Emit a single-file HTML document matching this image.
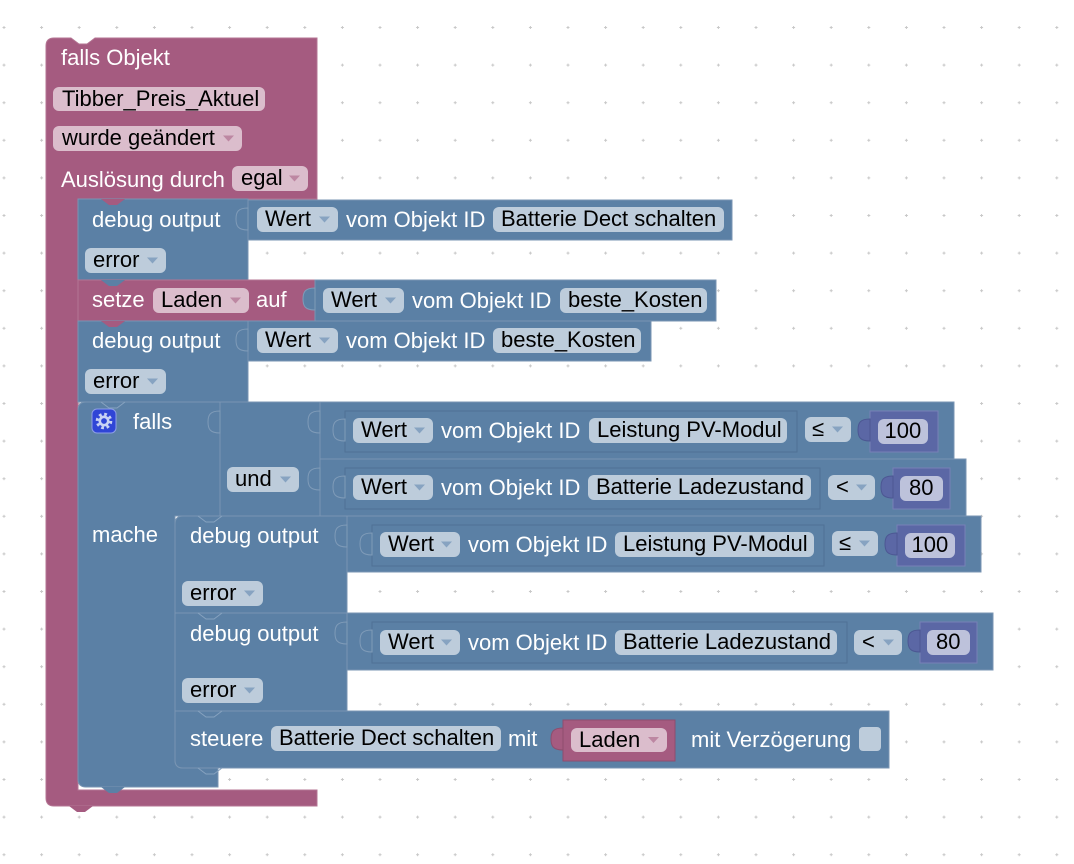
<!DOCTYPE html>
<html><head><meta charset="utf-8"><style>
html,body{margin:0;padding:0;background:#fff;}
svg{display:block}
text{font-family:"Liberation Sans",Arial,sans-serif;font-size:22px;}
.w{fill:#fff}.k{fill:#000}
.P{fill:#a55b80;stroke:#b47593;stroke-width:1}
.B{fill:#5b80a5;stroke:#7995b3;stroke-width:1}
.M{fill:#5b67a5;stroke:#7780b6;stroke-width:1}
.fp{fill:#dbbdcc}.fb{fill:#bdccdb}.fm{fill:#bdc2db}
.ap{fill:#bd87a2}.ab{fill:#87a3c1}
.tb{fill:#5b80a5;stroke:#7f9bb8;stroke-width:1}
.tp{fill:#a55b80;stroke:#8e4d6e;stroke-width:1}
.tm{fill:#5b67a5;stroke:#4c5793;stroke-width:1}
.sl{fill:none;stroke:#86a2bf;stroke-width:1}
</style></head><body>
<svg width="1074" height="864" viewBox="0 0 1074 864" xmlns="http://www.w3.org/2000/svg">
<defs>
<pattern id="dots" x="-14.8" y="8.7" width="37.6" height="37.6" patternUnits="userSpaceOnUse">
<path d="M17.3,18.8h3M18.8,17.3v3" stroke="#c8c8c8" stroke-width="1"/>
</pattern>
</defs>
<rect x="0" y="0" width="1074" height="864" fill="#fff"/>
<rect x="0" y="0" width="1074" height="864" fill="url(#dots)"/>

<!-- Hat block -->
<path class="P" d="M46,46 Q46,38 54,38 H71 L79,44 H87 L95,38 H317 V199 H78 V790 H317 V806 H54 Q46,806 46,798 Z"/>
<text x="61" y="65" class="w">falls Objekt</text>
<rect x="53" y="87" width="212" height="24" rx="6" class="fp"/>
<text x="62" y="106" class="k">Tibber_Preis_Aktuel</text>
<rect x="53" y="126" width="189" height="25" rx="6" class="fp"/>
<text x="62" y="145" class="k">wurde geändert</text>
<polygon class="ap" points="223,135.5 234,135.5 228.5,141.5"/>
<text x="61" y="187" class="w">Auslösung durch</text>
<rect x="232" y="166" width="76" height="25" rx="6" class="fp"/>
<text x="241" y="185" class="k">egal</text>
<polygon class="ap" points="289,175.5 300,175.5 294.5,181.5"/>

<!-- Debug 1 -->
<rect class="B" x="78" y="199" width="170" height="81"/>
<text x="92" y="227" class="w">debug output</text>
<rect x="85" y="248" width="81" height="25" rx="6" class="fb"/>
<text x="93" y="267" class="k">error</text>
<polygon class="ab" points="147,257.5 158,257.5 152.5,263.5"/>
<rect class="B" x="248" y="200" width="484" height="40"/>
<path class="tb" d="M248,208 C238,208 236,212 236,219 C236,226 238,230 248,230 Z"/>
<rect x="257" y="207" width="81" height="25" rx="6" class="fb"/>
<text x="265" y="226" class="k">Wert</text>
<polygon class="ab" points="319,216.5 330,216.5 324.5,222.5"/>
<text x="346" y="227" class="w">vom Objekt ID</text>
<rect x="493" y="207" width="231" height="25" rx="6" class="fb"/>
<text x="501" y="226" class="k">Batterie Dect schalten</text>
<polygon fill="#a55b80" points="101,199 109,205 117,205 125,199"/>

<!-- Setze -->
<rect class="P" x="78" y="280" width="237" height="41"/>
<text x="92" y="307" class="w">setze</text>
<rect x="153" y="288" width="96" height="25" rx="6" class="fp"/>
<text x="161" y="307" class="k">Laden</text>
<polygon class="ap" points="230,297.5 241,297.5 235.5,303.5"/>
<text x="256" y="307" class="w">auf</text>
<rect class="B" x="315" y="280" width="401" height="41"/>
<path class="tb" d="M315,288 C305,288 303,292 303,299 C303,306 305,310 315,310 Z"/>
<rect x="323" y="288" width="81" height="25" rx="6" class="fb"/>
<text x="331" y="307" class="k">Wert</text>
<polygon class="ab" points="385,297.5 396,297.5 390.5,303.5"/>
<text x="412" y="308" class="w">vom Objekt ID</text>
<rect x="560" y="288" width="147" height="25" rx="6" class="fb"/>
<text x="568" y="307" class="k">beste_Kosten</text>
<polygon fill="#5b80a5" points="101,280 109,286 117,286 125,280"/>

<!-- Debug 2 -->
<rect class="B" x="78" y="321" width="170" height="81"/>
<text x="92" y="348" class="w">debug output</text>
<rect x="85" y="369" width="81" height="25" rx="6" class="fb"/>
<text x="93" y="388" class="k">error</text>
<polygon class="ab" points="147,378.5 158,378.5 152.5,384.5"/>
<rect class="B" x="248" y="321" width="403" height="40"/>
<path class="tb" d="M248,329 C238,329 236,333 236,340 C236,347 238,351 248,351 Z"/>
<rect x="257" y="328" width="81" height="25" rx="6" class="fb"/>
<text x="265" y="347" class="k">Wert</text>
<polygon class="ab" points="319,337.5 330,337.5 324.5,343.5"/>
<text x="346" y="348" class="w">vom Objekt ID</text>
<rect x="493" y="328" width="148" height="25" rx="6" class="fb"/>
<text x="501" y="347" class="k">beste_Kosten</text>
<polygon fill="#a55b80" points="101,321 109,327 117,327 125,321"/>

<!-- Falls block -->
<path class="B" d="M78,410 Q78,402 86,402 H220 V516 H175 V760 Q175,768 183,768 H218 V787 H86 Q78,787 78,779 Z"/>
<polyline class="sl" points="101,402 109,408 117,408 125,402"/>
<rect x="92" y="409" width="24" height="24" rx="5" fill="#2f45d6" stroke="#8d9fe6" stroke-width="1"/>
<circle cx="104" cy="421" r="6.8" fill="none" stroke="#c8d2f4" stroke-width="3" stroke-dasharray="2.7 2.64"/>
<circle cx="104" cy="421" r="4.2" fill="none" stroke="#c8d2f4" stroke-width="2.6"/>
<text x="133" y="429" class="w">falls</text>
<text x="92" y="542" class="w">mache</text>

<!-- und -->
<rect class="B" x="220" y="402" width="100" height="114"/>
<path class="tb" d="M220,411 C210,411 208,415 208,422 C208,429 210,433 220,433 Z"/>
<rect x="227" y="467" width="72" height="25" rx="6" class="fb"/>
<text x="235" y="486" class="k">und</text>
<polygon class="ab" points="280,476.5 291,476.5 285.5,482.5"/>

<!-- C1 -->
<rect class="B" x="320" y="402" width="634" height="57"/>
<path class="tb" d="M320,411 C310,411 308,415 308,422 C308,429 310,433 320,433 Z"/>
<rect class="B" x="345" y="411" width="452" height="41" style="stroke:#4f7195"/>
<path class="tb" d="M345,419 C335,419 333,423 333,430 C333,437 335,441 345,441 Z"/>
<rect x="353" y="418" width="80" height="25" rx="6" class="fb"/>
<text x="361" y="437" class="k">Wert</text>
<polygon class="ab" points="414,427.5 425,427.5 419.5,433.5"/>
<text x="441" y="438" class="w">vom Objekt ID</text>
<rect x="589" y="418" width="198" height="25" rx="6" class="fb"/>
<text x="597" y="437" class="k">Leistung PV-Modul</text>
<rect x="805" y="417" width="46" height="25" rx="6" class="fb"/>
<text x="812" y="436" class="k">≤</text>
<polygon class="ab" points="832,426.5 843,426.5 837.5,432.5"/>
<rect class="M" x="870" y="411" width="68" height="41"/>
<path class="tm" d="M870,419 C860,419 858,423 858,430 C858,437 860,441 870,441 Z"/>
<rect x="878" y="419" width="50" height="25" rx="6" class="fm"/>
<text x="884.5" y="438" class="k">100</text>

<!-- C2 -->
<rect class="B" x="320" y="459" width="646" height="57"/>
<path class="tb" d="M320,468 C310,468 308,472 308,479 C308,486 310,490 320,490 Z"/>
<rect class="B" x="345" y="468" width="475" height="41" style="stroke:#4f7195"/>
<path class="tb" d="M345,476 C335,476 333,480 333,487 C333,494 335,498 345,498 Z"/>
<rect x="353" y="475" width="80" height="25" rx="6" class="fb"/>
<text x="361" y="494" class="k">Wert</text>
<polygon class="ab" points="414,484.5 425,484.5 419.5,490.5"/>
<text x="441" y="495" class="w">vom Objekt ID</text>
<rect x="588" y="475" width="223" height="25" rx="6" class="fb"/>
<text x="596" y="494" class="k">Batterie Ladezustand</text>
<rect x="828" y="475" width="47" height="25" rx="6" class="fb"/>
<text x="836" y="494" class="k">&lt;</text>
<polygon class="ab" points="856,484.5 867,484.5 861.5,490.5"/>
<rect class="M" x="893" y="468" width="57" height="41"/>
<path class="tm" d="M893,476 C883,476 881,480 881,487 C881,494 883,498 893,498 Z"/>
<rect x="900" y="476" width="43" height="25" rx="6" class="fm"/>
<text x="909" y="495" class="k">80</text>

<!-- Debug 3 -->
<path class="B" d="M175,524 Q175,516 183,516 H347 V613 H175 Z"/>
<polyline class="sl" points="198,516 206,522 214,522 222,516"/>
<text x="190" y="543" class="w">debug output</text>
<rect x="182" y="581" width="81" height="25" rx="6" class="fb"/>
<text x="190" y="600" class="k">error</text>
<polygon class="ab" points="244,590.5 255,590.5 249.5,596.5"/>
<rect class="B" x="347" y="516" width="634" height="56"/>
<path class="tb" d="M347,525 C337,525 335,529 335,536 C335,543 337,547 347,547 Z"/>
<rect class="B" x="372" y="525" width="452" height="41" style="stroke:#4f7195"/>
<path class="tb" d="M372,533 C362,533 360,537 360,544 C360,551 362,555 372,555 Z"/>
<rect x="380" y="532" width="80" height="25" rx="6" class="fb"/>
<text x="388" y="551" class="k">Wert</text>
<polygon class="ab" points="441,541.5 452,541.5 446.5,547.5"/>
<text x="468" y="552" class="w">vom Objekt ID</text>
<rect x="615" y="532" width="199" height="25" rx="6" class="fb"/>
<text x="623" y="551" class="k">Leistung PV-Modul</text>
<rect x="832" y="531" width="46" height="25" rx="6" class="fb"/>
<text x="839" y="550" class="k">≤</text>
<polygon class="ab" points="859,540.5 870,540.5 864.5,546.5"/>
<rect class="M" x="897" y="525" width="68" height="41"/>
<path class="tm" d="M897,533 C887,533 885,537 885,544 C885,551 887,555 897,555 Z"/>
<rect x="905" y="533" width="50" height="25" rx="6" class="fm"/>
<text x="911.5" y="552" class="k">100</text>

<!-- Debug 4 -->
<rect class="B" x="175" y="613" width="172" height="98"/>
<polyline class="sl" points="198,613 206,619 214,619 222,613"/>
<text x="190" y="641" class="w">debug output</text>
<rect x="182" y="678" width="81" height="25" rx="6" class="fb"/>
<text x="190" y="697" class="k">error</text>
<polygon class="ab" points="244,687.5 255,687.5 249.5,693.5"/>
<rect class="B" x="347" y="613" width="646" height="57"/>
<path class="tb" d="M347,622 C337,622 335,626 335,633 C335,640 337,644 347,644 Z"/>
<rect class="B" x="372" y="622" width="475" height="41" style="stroke:#4f7195"/>
<path class="tb" d="M372,630 C362,630 360,634 360,641 C360,648 362,652 372,652 Z"/>
<rect x="380" y="630" width="80" height="25" rx="6" class="fb"/>
<text x="388" y="649" class="k">Wert</text>
<polygon class="ab" points="441,639.5 452,639.5 446.5,645.5"/>
<text x="468" y="650" class="w">vom Objekt ID</text>
<rect x="615" y="630" width="222" height="25" rx="6" class="fb"/>
<text x="623" y="649" class="k">Batterie Ladezustand</text>
<rect x="854" y="630" width="48" height="25" rx="6" class="fb"/>
<text x="862" y="649" class="k">&lt;</text>
<polygon class="ab" points="883,639.5 894,639.5 888.5,645.5"/>
<rect class="M" x="920" y="622" width="57" height="41"/>
<path class="tm" d="M920,630 C910,630 908,634 908,641 C908,648 910,652 920,652 Z"/>
<rect x="927" y="630" width="43" height="25" rx="6" class="fm"/>
<text x="936" y="649" class="k">80</text>

<!-- Steuere -->
<path class="B" d="M175,711 H889 V768 H183 Q175,768 175,760 Z"/>
<polyline class="sl" points="198,711 206,717 214,717 222,711"/>
<text x="190" y="746" class="w">steuere</text>
<rect x="271" y="726" width="230" height="25" rx="6" class="fb"/>
<text x="279" y="745" class="k">Batterie Dect schalten</text>
<text x="508" y="746" class="w">mit</text>
<rect class="P" x="563" y="720" width="112" height="41" style="stroke:#8e4d6e"/>
<path class="tp" d="M563,728 C553,728 551,732 551,739 C551,746 553,750 563,750 Z"/>
<rect x="571" y="728" width="96" height="24" rx="6" class="fp"/>
<text x="579" y="747" class="k">Laden</text>
<polygon class="ap" points="648,737 659,737 653.5,743"/>
<text x="691" y="747" class="w">mit Verzögerung</text>
<rect x="859" y="727" width="22" height="24" rx="4" class="fb"/>
<polyline class="sl" points="198,768 206,774 214,774 222,768"/>

<!-- bottom tabs -->
<polygon fill="#5b80a5" points="101,787 109,793 117,793 125,787"/>
<polygon fill="#a55b80" points="69,806 77,812 85,812 93,806"/>
</svg>
</body></html>
